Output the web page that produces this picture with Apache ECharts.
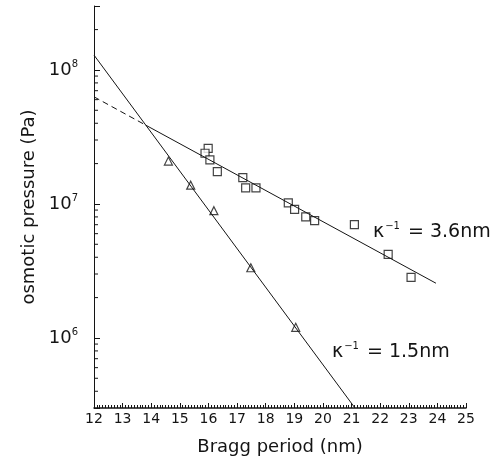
<!DOCTYPE html>
<html>
<head>
<meta charset="utf-8">
<script src="https://cdn.jsdelivr.net/npm/echarts@6/dist/echarts.min.js"></script>
<style>
  html, body { margin: 0; padding: 0; background: #fff; }
  #chart { width: 498px; height: 469px; }
</style>
</head>
<body>
<div id="chart"></div>
<script>
// Bragg period (nm) vs osmotic pressure (Pa)
var squareX = [15.99, 15.88, 16.05, 16.31, 17.20, 17.30, 17.66, 18.79, 19.01, 19.40, 19.71, 21.10, 22.28, 23.08];
var squareY = [2.60e7, 2.39e7, 2.13e7, 1.74e7, 1.57e7, 1.32e7, 1.32e7, 1.02e7, 9.1e6, 8.0e6, 7.5e6, 7.0e6, 4.2e6, 2.83e6];

var triangleX = [14.60, 15.38, 16.19, 17.48, 19.05];
var triangleY = [2.09e7, 1.38e7, 8.9e6, 3.34e6, 1.2e6];

// fitted lines (end points)
var steepX = [12, 21.12];
var steepY = [1.29e8, 3e5];
var shallowDashX = [12, 13.81];
var shallowDashY = [6.3e7, 3.87e7];
var shallowX = [13.81, 23.95];
var shallowY = [3.87e7, 2.56e6];

var xTicks = [12, 13, 14, 15, 16, 17, 18, 19, 20, 21, 22, 23, 24, 25];
var yDecades = [5, 6, 7, 8];
var minorMult = [2, 3, 4, 5, 6, 7, 8, 9];

function pairs(xs, ys) {
    return xs.map(function (x, i) { return [x, ys[i]]; });
}

// minor ticks of the log axis: 2..9 x 10^n inside the range
var yMinor = [];
yDecades.forEach(function (d) {
    minorMult.forEach(function (m) {
        var v = m * Math.pow(10, d);
        if (v > 3e5 && v < 3e8) yMinor.push([12, v]);
    });
});

var ink = '#141414';
var font = 'DejaVu Sans';

var kappaRich = {
    k: { fontFamily: font, fontSize: 19, fill: ink },
    s: { fontFamily: font, fontSize: 10, fill: ink, padding: [0, 2, 12, 1] }
};

var myChart = echarts.init(document.getElementById('chart'));
var option = {
    animation: false,
    backgroundColor: '#fff',
    grid: {
        left: 94,
        right: 32,
        top: 6,
        bottom: 61
    },
    xAxis: {
        type: 'value',
        min: xTicks[0],
        max: xTicks[xTicks.length - 1],
        interval: 1,
        name: 'Bragg period (nm)',
        nameLocation: 'middle',
        nameGap: 30,
        nameTextStyle: { fontFamily: font, fontSize: 18, color: ink },
        axisLine: { lineStyle: { color: ink, width: 1.5 } },
        axisTick: { inside: true, length: 5, lineStyle: { color: ink } },
        minorTick: { show: true, splitNumber: 10, length: 3, lineStyle: { color: ink } },
        splitLine: { show: false },
        axisLabel: { fontFamily: font, fontSize: 14, color: ink, margin: 4 }
    },
    yAxis: {
        type: 'log',
        min: 3e5,
        max: 3e8,
        name: 'osmotic pressure (Pa)',
        nameLocation: 'middle',
        nameGap: 54,
        nameTextStyle: { fontFamily: font, fontSize: 18, color: ink },
        axisLine: { lineStyle: { color: ink, width: 1 } },
        axisTick: { inside: true, length: 6, lineStyle: { color: ink } },
        splitLine: { show: false },
        axisLabel: {
            margin: 16,
            color: ink,
            formatter: function (v) {
                var e = Math.log10(v);
                if (Math.abs(e - Math.round(e)) > 1e-6) return '';
                return '{b|10}{s|' + Math.round(e) + '}';
            },
            rich: {
                b: { fontFamily: font, fontSize: 18, color: ink },
                s: { fontFamily: font, fontSize: 10, color: ink, padding: [0, 0, 12, 0] }
            }
        }
    },
    graphic: [
        {
            type: 'text',
            left: 373,
            top: 221,
            style: { text: '{k|κ}{s|−1}{k| = 3.6nm}', rich: kappaRich }
        },
        {
            type: 'text',
            left: 332,
            top: 341,
            style: { text: '{k|κ}{s|−1}{k| = 1.5nm}', rich: kappaRich }
        }
    ],
    series: [
        {
            type: 'custom',
            silent: true,
            data: yMinor,
            renderItem: function (params, api) {
                var p = api.coord([api.value(0), api.value(1)]);
                return {
                    type: 'line',
                    shape: { x1: p[0], y1: p[1], x2: p[0] + 4, y2: p[1] },
                    style: { stroke: ink, lineWidth: 1 }
                };
            }
        },
        {
            type: 'line',
            data: pairs(steepX, steepY),
            showSymbol: false,
            silent: true,
            lineStyle: { color: ink, width: 1 }
        },
        {
            type: 'line',
            data: pairs(shallowDashX, shallowDashY),
            showSymbol: false,
            silent: true,
            lineStyle: { color: ink, width: 1, type: [6, 4] }
        },
        {
            type: 'line',
            data: pairs(shallowX, shallowY),
            showSymbol: false,
            silent: true,
            lineStyle: { color: ink, width: 1 }
        },
        {
            type: 'scatter',
            data: pairs(squareX, squareY),
            symbol: 'rect',
            symbolSize: 8,
            silent: true,
            itemStyle: { color: '#fff', borderColor: ink, borderWidth: 1.2 }
        },
        {
            type: 'scatter',
            data: pairs(triangleX, triangleY),
            symbol: 'triangle',
            symbolSize: 8,
            silent: true,
            itemStyle: { color: '#fff', borderColor: ink, borderWidth: 1.2 }
        }
    ]
};
myChart.setOption(option);
window.addEventListener('resize', function () {
    myChart.resize();
});
</script>
</body>
</html>
